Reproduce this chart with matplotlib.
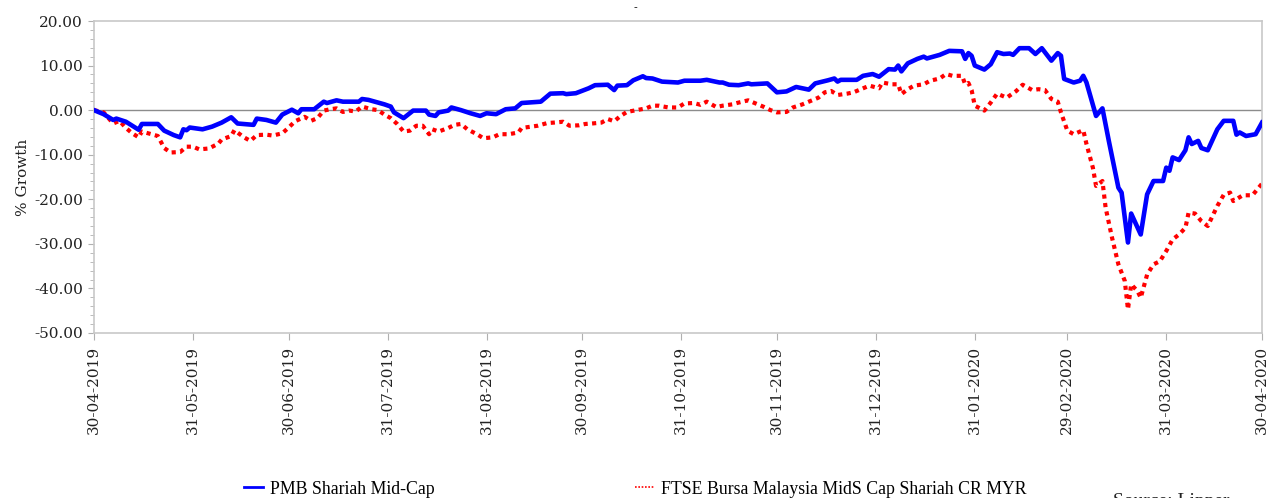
#!/usr/bin/env python

import matplotlib
matplotlib.use("Agg")
import matplotlib.pyplot as plt
import matplotlib.dates as mdates
from matplotlib.lines import Line2D
from matplotlib.ticker import MultipleLocator, FormatStrFormatter
import pandas as pd

# Series: day offsets from 30-04-2019 and % growth values
start_date = "2019-04-30"

fund_days = [0, 3, 6, 7, 10, 12, 14, 15, 20, 22, 25, 27, 28, 29, 30, 34, 37, 40, 43, 45,
             50, 51, 54, 57, 59, 62, 64, 65, 69, 72, 73, 76, 78, 83, 84, 86, 91, 93, 94, 97,
             100, 104, 105, 107, 108, 111, 112, 115, 118, 121, 123, 126, 129, 132, 134, 140,
             143, 147, 148, 151, 155, 157, 161, 163, 164, 167, 169, 172, 173, 175, 178, 183,
             185, 190, 192, 196, 197, 199, 202, 205, 206, 211, 214, 217, 220, 224, 226, 230,
             232, 233, 234, 239, 241, 244, 246, 249, 251, 252, 253, 255, 258, 260, 261, 265,
             268, 272, 273, 274, 275, 276, 279, 281, 283, 285, 287, 288, 290, 293, 295, 297,
             300, 302, 303, 304, 307, 309, 310, 311, 314, 316, 318, 321, 322, 324, 325, 328,
             330, 332, 335, 336, 337, 338, 340, 342, 343, 344, 346, 347, 349, 352, 354, 357,
             358, 359, 361, 364, 366]
fund_vals = [0, -0.9, -2.2, -1.9, -2.6, -3.5, -4.4, -3.1, -3.1, -4.6, -5.6, -6.1, -4.3, -4.5,
             -3.9, -4.3, -3.7, -2.8, -1.6, -3.0, -3.3, -1.9, -2.2, -2.8, -1.0, 0.1, -0.7, 0.2,
             0.2, 1.9, 1.6, 2.2, 1.9, 1.9, 2.5, 2.3, 1.3, 0.8, -0.5, -1.8, -0.1, -0.1, -1.0,
             -1.3, -0.5, -0.1, 0.6, 0.0, -0.7, -1.3, -0.7, -0.9, 0.2, 0.4, 1.6, 1.9, 3.7, 3.8,
             3.6, 3.8, 4.9, 5.6, 5.7, 4.5, 5.5, 5.6, 6.7, 7.6, 7.2, 7.1, 6.4, 6.2, 6.6, 6.6,
             6.8, 6.2, 6.2, 5.7, 5.6, 6.0, 5.8, 6.0, 4.0, 4.2, 5.2, 4.6, 6.0, 6.7, 7.1, 6.4,
             6.8, 6.8, 7.7, 8.1, 7.5, 9.2, 9.1, 10.0, 8.7, 10.5, 11.5, 12.0, 11.6, 12.4, 13.3,
             13.2, 11.5, 12.8, 12.2, 10.0, 9.1, 10.3, 13.0, 12.6, 12.7, 12.4, 13.9, 13.9, 12.6,
             13.9, 11.1, 12.8, 12.2, 7.0, 6.2, 6.6, 7.7, 6.2, -1.3, 0.4, -6.9, -17.4, -18.5,
             -29.7, -23.2, -27.9, -18.9, -15.9, -15.9, -12.9, -13.6, -10.6, -11.2, -9.0, -6.1,
             -7.6, -6.9, -8.5, -9.0, -4.3, -2.4, -2.4, -5.5, -5.0, -5.8, -5.4, -2.8]

index_days = [0, 3, 6, 8, 10, 12, 14, 15, 18, 20, 22, 24, 27, 29, 31, 33, 36, 39, 40, 43,
              44, 47, 49, 51, 54, 56, 59, 61, 63, 66, 68, 70, 72, 74, 76, 78, 80, 82, 84, 87,
              89, 91, 93, 95, 97, 99, 101, 103, 105, 106, 108, 111, 113, 115, 117, 120, 122,
              125, 127, 130, 133, 134, 137, 139, 142, 144, 147, 149, 152, 154, 156, 159, 161,
              163, 165, 167, 170, 173, 175, 177, 180, 183, 185, 188, 190, 192, 195, 197, 200,
              202, 205, 208, 210, 212, 214, 217, 219, 222, 224, 227, 229, 231, 233, 236, 238,
              241, 243, 246, 247, 250, 252, 253, 255, 257, 260, 262, 265, 267, 269, 272, 273,
              274, 275, 276, 279, 281, 283, 286, 289, 291, 294, 296, 298, 300, 302, 303, 305,
              307, 310, 311, 313, 314, 316, 317, 319, 321, 323, 324, 325, 327, 328, 330, 332,
              334, 336, 338, 340, 342, 343, 345, 347, 349, 352, 354, 356, 357, 360, 363, 366]
index_vals = [0, -0.5, -3.0, -2.4, -4.0, -5.2, -6.1, -4.8, -5.4, -5.8, -8.5, -9.5, -9.4,
              -8.2, -8.2, -8.8, -8.6, -7.5, -6.6, -5.8, -4.5, -6.1, -6.9, -5.6, -5.5, -5.7,
              -5.2, -3.9, -2.5, -1.5, -2.4, -1.8, -0.1, 0.2, 0.4, -0.4, -0.1, -0.3, 0.8, 0.2,
              0.0, -1.0, -1.8, -3.1, -4.8, -4.6, -3.5, -3.5, -5.4, -4.3, -4.8, -4.0, -3.3,
              -3.1, -4.3, -5.4, -6.3, -6.1, -5.4, -5.4, -5.0, -4.0, -3.7, -3.5, -2.9, -2.8,
              -2.6, -3.5, -3.4, -3.1, -3.0, -2.8, -2.0, -2.5, -1.3, -0.4, 0.0, 0.4, 1.0, 1.0,
              0.6, 0.6, 1.5, 1.6, 1.2, 1.9, 0.7, 1.0, 1.3, 1.7, 2.2, 1.3, 0.7, 0.0, -0.5, -0.4,
              0.6, 1.3, 1.9, 2.8, 4.0, 4.3, 3.4, 3.7, 4.0, 4.9, 5.5, 4.9, 6.2, 5.8, 5.8, 3.6,
              4.7, 5.5, 5.8, 6.6, 7.1, 8.1, 7.7, 7.7, 5.8, 6.1, 4.5, 1.0, -0.1, 1.7, 3.7, 2.8,
              4.3, 5.7, 4.5, 4.7, 4.5, 2.5, 1.9, -0.5, -4.6, -5.4, -4.5, -7.6, -12.9, -17.0,
              -15.9, -21.9, -28.6, -34.6, -38.3, -44.7, -39.1, -40.6, -42.1, -36.9, -34.6,
              -33.9, -31.6, -29.0, -27.9, -26.4, -23.0, -23.2, -24.9, -26.0, -21.5, -19.0,
              -18.5, -20.4, -19.1, -19.1, -16.5]

tick_dates = ["2019-04-30", "2019-05-31", "2019-06-30", "2019-07-31", "2019-08-31",
              "2019-09-30", "2019-10-31", "2019-11-30", "2019-12-31", "2020-01-31",
              "2020-02-29", "2020-03-31", "2020-04-30"]

fund_name = "PMB Shariah Mid-Cap"
index_name = "FTSE Bursa Malaysia MidS Cap Shariah CR MYR"


def main():
    start = pd.Timestamp(start_date)
    fund_x = start + pd.to_timedelta(fund_days, unit="D")
    index_x = start + pd.to_timedelta(index_days, unit="D")
    ticks = pd.to_datetime(tick_dates)

    fig = plt.figure(figsize=(12.8, 4.98), dpi=100)
    ax = fig.add_axes([94 / 1280, 1 - 333 / 498, 1168 / 1280, 312 / 498])

    ax.axhline(0, color="#8c8c8c", lw=1.0, zorder=1)
    ax.plot(index_x, index_vals, color="#ff0000", lw=3.0,
            linestyle=(0, (1.0, 1.05)), dash_capstyle="butt", zorder=2)
    ax.plot(fund_x, fund_vals, color="#0000ff", lw=3.3, zorder=3)

    ax.set_xlim(ticks[0], ticks[-1])
    ax.set_ylim(-50, 20)
    ax.set_xticks(ticks)
    ax.xaxis.set_major_formatter(mdates.DateFormatter("%d-%m-%Y"))
    ax.yaxis.set_major_locator(MultipleLocator(10))
    ax.yaxis.set_minor_locator(MultipleLocator(2))
    ax.yaxis.set_major_formatter(FormatStrFormatter("%.2f"))

    for s in ax.spines.values():
        s.set_color("#c8c8c8")
        s.set_linewidth(1.2)
    ax.tick_params(axis="both", which="both", colors="#b0b0b0", labelcolor="#222222",
                   labelsize=11)
    ax.tick_params(axis="y", which="major", length=4, pad=4)
    ax.tick_params(axis="y", which="minor", length=3)
    ax.tick_params(axis="x", which="major", length=5, pad=4, labelrotation=90)
    for lbl in ax.get_xticklabels() + ax.get_yticklabels():
        lbl.set_family("DejaVu Serif")

    ax.set_ylabel("% Growth", family="DejaVu Serif", fontsize=11, color="#222222",
                  labelpad=3)

    handles = [Line2D([], [], color="#0000ff", lw=2.0),
               Line2D([], [], color="#ff0000", lw=1.2, linestyle=(0, (1, 1)))]
    fig.legend(handles, [fund_name, index_name], loc="center left",
               bbox_to_anchor=(228 / 1280, 1 - 489 / 498), ncol=2, frameon=False,
               handlelength=1.05, handletextpad=0.4, columnspacing=11.3,
               prop={"family": "Liberation Serif", "size": 12.8})

    fig.text(1113 / 1280, 1 - 493 / 498, "Source: Lipper", family="Liberation Serif",
             fontsize=14, va="top", ha="left", color="#222222")
    fig.text(635 / 1280, 1 - 3 / 498, "-", family="DejaVu Serif", fontsize=8,
             va="top", ha="center", color="#222222")

    fig.savefig("out.png", dpi=100)


if __name__ == "__main__":
    main()
